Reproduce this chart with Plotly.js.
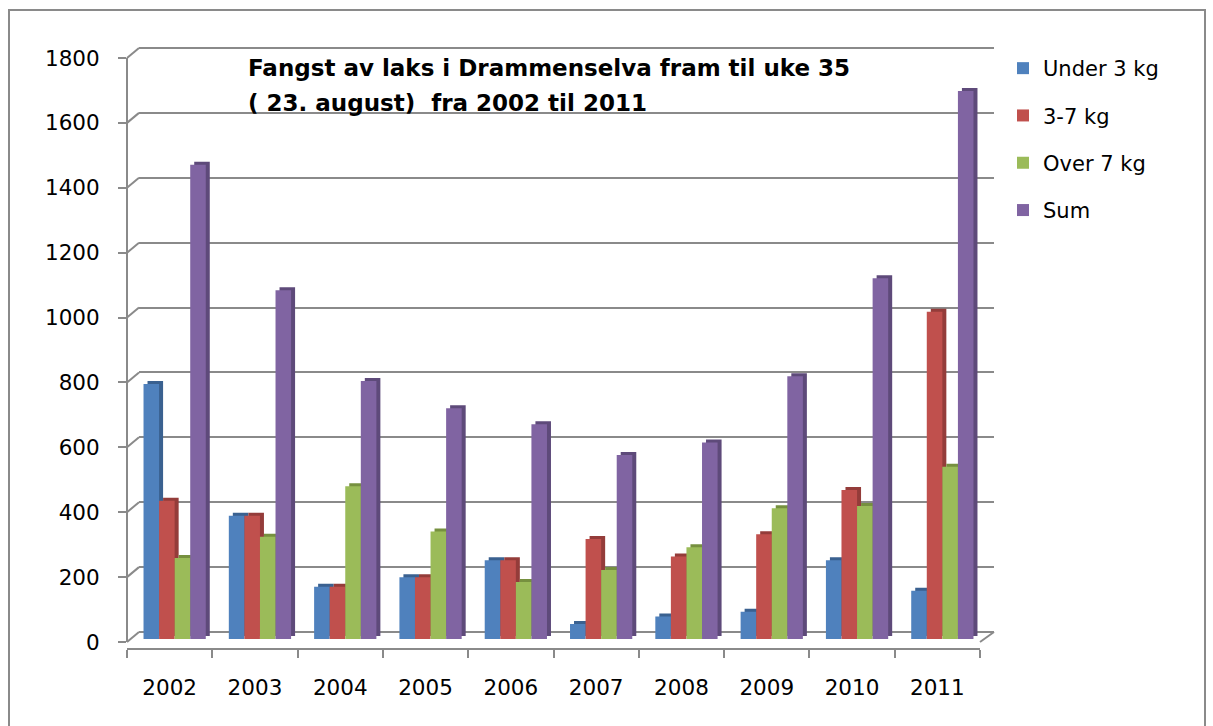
<!DOCTYPE html>
<html>
<head>
<meta charset="utf-8">
<script src="https://cdn.plot.ly/plotly-3.0.1.min.js"></script>
<style>html,body{margin:0;padding:0;background:#fff}#chart{width:1213px;height:726px}</style>
</head>
<body>
<div id="chart"></div>
<script>
// ---- data ----
const years = ["2002","2003","2004","2005","2006","2007","2008","2009","2010","2011"];
const under3 = [786, 380, 161, 190, 243, 46, 69, 84, 243, 149];
const kg3to7 = [426, 380, 161, 190, 243, 308, 254, 323, 459, 1009];
const over7 = [250, 315, 471, 331, 176, 213, 283, 403, 410, 531];
const sumAll = [1462, 1075, 795, 711, 662, 567, 606, 810, 1112, 1689];
const seriesNames = ["Under 3 kg", "3-7 kg", "Over 7 kg", "Sum"];
const yTicks = [0, 200, 400, 600, 800, 1000, 1200, 1400, 1600, 1800];
const titleLines = ["Fangst av laks i Drammenselva fram til uke 35", "( 23. august)  fra 2002 til 2011"];

// ---- geometry helpers (pixels -> paper) ----
const W = 1213, H = 726;
const fx = p => p / W;
const fy = p => 1 - p / H;
const colors = ["#4F81BD", "#C0504D", "#9BBB59", "#8064A2"];
const sideColors = ["#3A6190", "#943C3A", "#76903F", "#5E4A7A"];
const gridCol = "#8a8a8a";
const FONT = "'DejaVu Sans', Verdana, sans-serif";

// back wall (grid), bar depth faces, bars, front axes
const back = {x0: 139, x1: 994, y0: 632, y1: 48};
const depth = {x0: 136, x1: 989, y0: 636, y1: 52};
const bars = {x0: 132, x1: 985, y0: 639, y1: 55};
const front = {x0: 127, x1: 980, y0: 642, y1: 58};

const seriesVals = [under3, kg3to7, over7, sumAll];
const traces = [];
// invisible anchor trace so the back wall is drawn
traces.push({type: "scatter", mode: "markers", x: years, y: sumAll, xaxis: "x", yaxis: "y",
  marker: {opacity: 0}, showlegend: false, hoverinfo: "skip"});
// darker depth (side/top) faces behind the bars
seriesVals.forEach((v, i) => traces.push({
  type: "bar", x: years, y: v, name: seriesNames[i], xaxis: "x2", yaxis: "y2",
  marker: {color: sideColors[i]}, showlegend: false, hoverinfo: "skip"
}));
// front faces of the bars
seriesVals.forEach((v, i) => traces.push({
  type: "bar", x: years, y: v, name: seriesNames[i], xaxis: "x3", yaxis: "y3",
  marker: {color: colors[i]}, legendgroup: "g" + i, hoverinfo: "x+y+name"
}));
// invisible anchor trace for the front axes
traces.push({type: "scatter", mode: "markers", x: years, y: sumAll, xaxis: "x4", yaxis: "y4",
  marker: {opacity: 0}, showlegend: false, hoverinfo: "skip"});

const PAD = 20;
const yr = [-PAD, 1800 + PAD];
function ydom(g) {
  const k = (g.y0 - g.y1) / 1800;
  return [fy(g.y0 + k * PAD), fy(g.y1 - k * PAD)];
}

const shapes = [];
const kF = (front.y0 - front.y1) / 1800, kB = (back.y0 - back.y1) / 1800;
yTicks.forEach(t => {
  shapes.push({type: "line", xref: "paper", yref: "paper",
    x0: fx(front.x0), y0: fy(front.y0 - t * kF), x1: fx(back.x0), y1: fy(back.y0 - t * kB),
    line: {color: gridCol, width: 2}, layer: "below"});
});
shapes.push({type: "line", xref: "paper", yref: "paper",
  x0: fx(front.x1), y0: fy(front.y0), x1: fx(back.x1), y1: fy(back.y0),
  line: {color: gridCol, width: 2}, layer: "below"});
shapes.push({type: "rect", xref: "paper", yref: "paper",
  x0: fx(9), y0: fy(10), x1: fx(1205), y1: fy(740),
  line: {color: "#8a8a8a", width: 2}, fillcolor: "rgba(0,0,0,0)"});
shapes.push({type: "line", xref: "paper", yref: "paper", x0: fx(front.x0), x1: fx(front.x0),
  y0: fy(front.y0), y1: fy(front.y1), line: {color: gridCol, width: 2}});

const annotations = titleLines.map((t, i) => ({
  text: "<b>" + t + "</b>", xref: "paper", yref: "paper",
  x: fx(246), y: fy(68 + i * 35), xanchor: "left", yanchor: "middle",
  showarrow: false, font: {family: FONT, size: 23, color: "#000"}
}));

const hidden = {showticklabels: false, showgrid: false, zeroline: false, showline: false, ticks: ""};
const layout = {
  width: W, height: H,
  margin: {l: 0, r: 0, t: 0, b: 0},
  paper_bgcolor: "#fff", plot_bgcolor: "rgba(0,0,0,0)",
  showlegend: true,
  font: {family: FONT, color: "#000"},
  barmode: "group", bargap: 0.27, bargroupgap: 0,
  xaxis: Object.assign({domain: [fx(back.x0), fx(back.x1)], type: "category", range: [-0.5, 9.5], anchor: "y"}, hidden),
  yaxis: Object.assign({}, hidden, {domain: ydom(back), range: yr, tickvals: yTicks,
    showgrid: true, gridcolor: gridCol, gridwidth: 2, anchor: "x"}),
  xaxis2: Object.assign({domain: [fx(depth.x0), fx(depth.x1)], type: "category", range: [-0.5, 9.5], anchor: "y2"}, hidden),
  yaxis2: Object.assign({domain: ydom(depth), range: yr, anchor: "x2"}, hidden),
  xaxis3: Object.assign({domain: [fx(bars.x0), fx(bars.x1)], type: "category", range: [-0.5, 9.5], anchor: "y3"}, hidden),
  yaxis3: Object.assign({domain: ydom(bars), range: yr, anchor: "x3"}, hidden),
  xaxis4: {domain: [fx(front.x0), fx(front.x1)], type: "category", range: [-0.5, 9.5],
    showgrid: false, zeroline: false, showline: true, linecolor: gridCol, linewidth: 2,
    ticks: "outside", tickson: "boundaries", ticklen: 8, tickcolor: gridCol, tickwidth: 2,
    tickfont: {family: FONT, size: 21.5, color: "#000"}, ticklabelstandoff: 19, anchor: "y4"},
  yaxis4: {domain: ydom(front), range: yr, tickvals: yTicks, showgrid: false, zeroline: false,
    showline: false,
    ticks: "outside", ticklen: 8, tickcolor: gridCol, tickwidth: 2,
    tickfont: {family: FONT, size: 21.5, color: "#000"}, ticklabelstandoff: 14, anchor: "x4"},
  legend: {x: fx(1003), y: fy(48), xanchor: "left", yanchor: "top",
    font: {family: FONT, size: 21, color: "#000"}, tracegroupgap: 17,
    bgcolor: "rgba(0,0,0,0)", itemclick: false},
  shapes: shapes,
  annotations: annotations
};

Plotly.newPlot("chart", traces, layout, {displayModeBar: false, staticPlot: true});
</script>
</body>
</html>
